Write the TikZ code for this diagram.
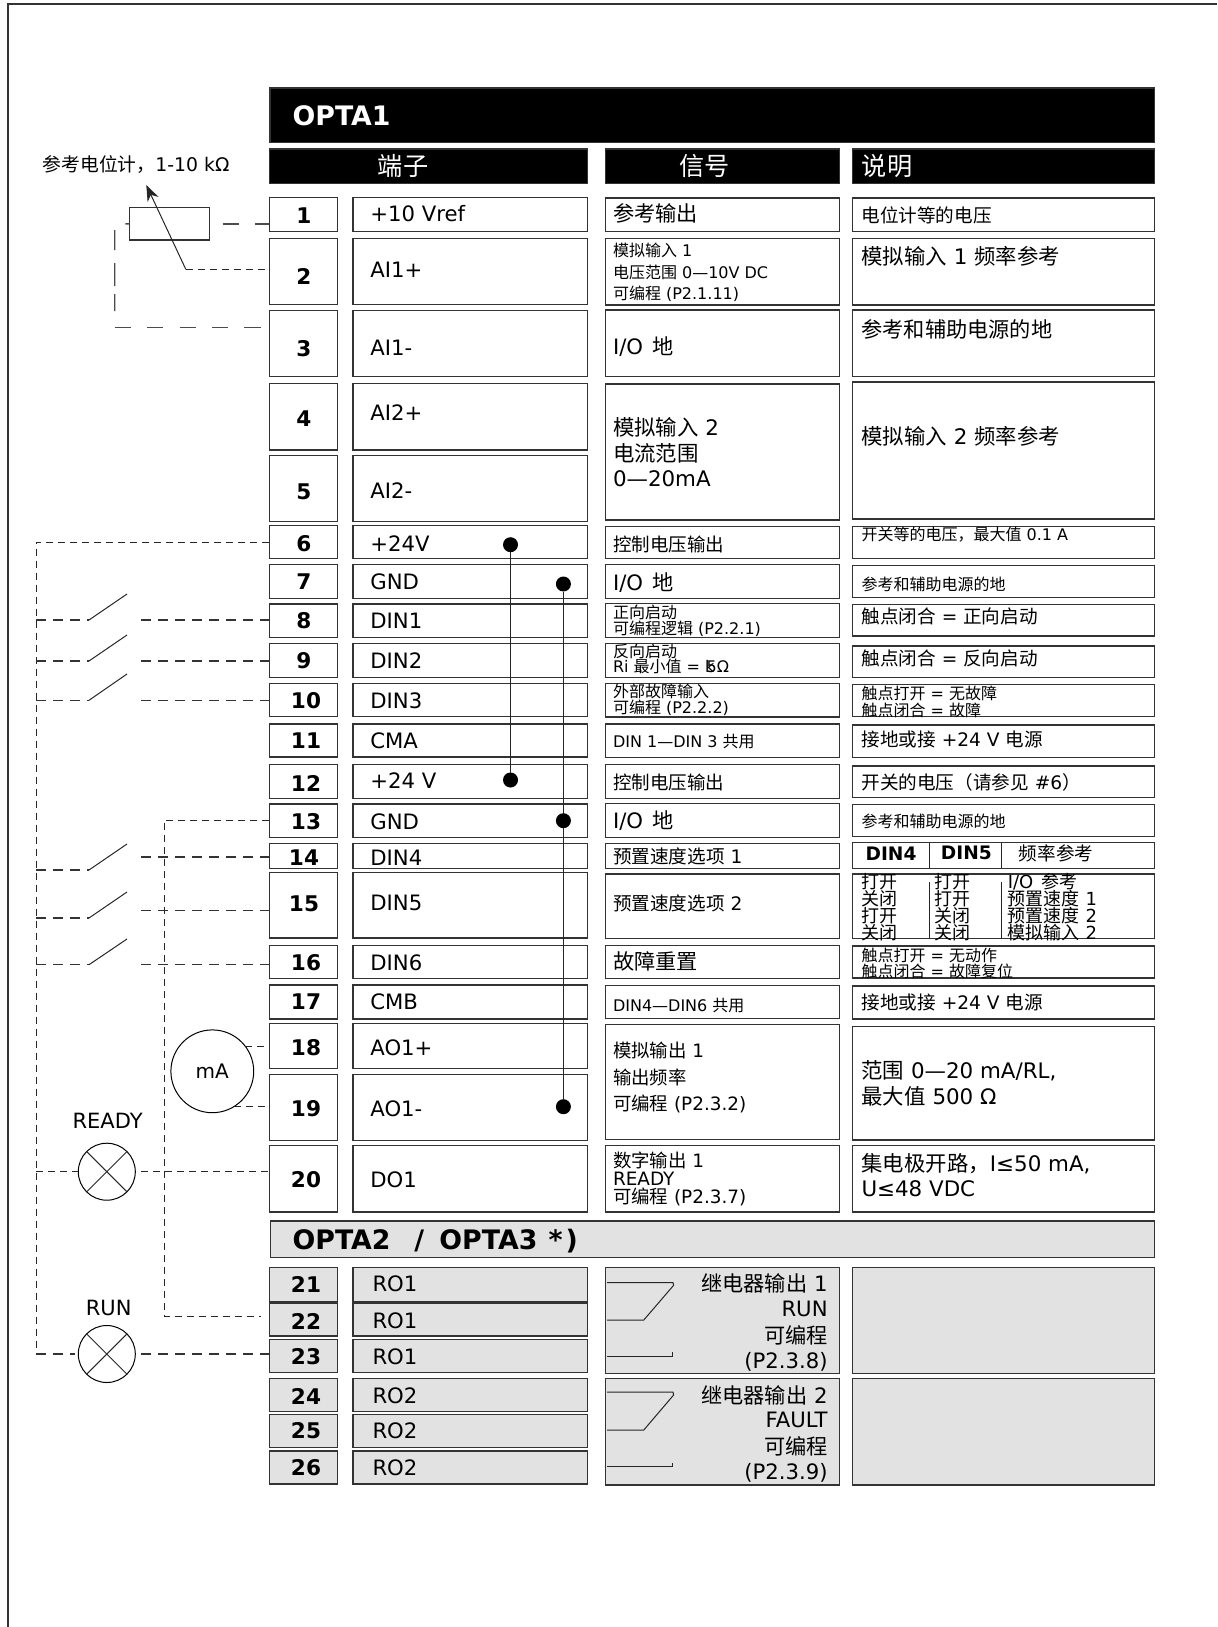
\documentclass[tikz,border=0pt]{standalone}
\usepackage{fontspec}
\setmainfont{DejaVu Sans}
\newfontfamily\cjk{Noto Sans CJK SC}
\usetikzlibrary{arrows.meta}
\newcommand{\zh}[1]{{\cjk #1}}
\newcommand{\cell}[6][]{\node[cellbox,#1,minimum width={(#4-#3)*0.5pt},minimum height={(#6-#5)*0.5pt}] (#2) at ({(#3+#4)/2},{(#5+#6)/2}) {};}
\definecolor{panelgray}{HTML}{E2E2E2}

\begin{document}
\begin{tikzpicture}[x=0.5pt,y=-0.5pt,
    fs/.style={font=\fontsize{#1}{#1}\selectfont},
    cellbox/.style={rectangle,draw=black!80,line width=0.7pt,inner sep=0pt,outer sep=0pt},
    txt/.style={anchor=west,inner sep=0pt,outer sep=0pt},
    latin/.style={txt,yshift=-0.5pt,fs=10.6},
    num/.style={inner sep=0pt,outer sep=0pt,yshift=-0.5pt,font=\fontsize{10.8}{10.8}\selectfont\bfseries},
    head/.style={inner sep=0pt,text=white,fs=12.6},
    wire/.style={line width=0.9pt,black!85},
    dot/.style={circle,fill=black,minimum size=7.5pt,inner sep=0pt,outer sep=0pt},
    ds/.style={line width=0.5pt,black!85,dash pattern=on 3.5pt off 2.5pt},
    dm/.style={line width=0.6pt,black!80,dash pattern=on 5pt off 3.5pt},
    dl/.style={line width=0.7pt,black!70,dash pattern=on 8.1pt off 8.1pt},
    lamp/.style={circle,draw,line width=0.5pt,minimum size=28.5pt,inner sep=0pt,outer sep=0pt},
    thin line/.style={line width=0.5pt,black!85}
    ]
    \useasboundingbox (0,0) rectangle (1217,1627);

    % page edge
    \coordinate (pagebl) at (8,1627);
    \coordinate (pagetl) at (8,4);
    \coordinate (pagetr) at (1217,4);
    \draw[line width=0.7pt,black!80] (pagebl) -- (pagetl) -- (pagetr);

    % title bars
    \cell[fill=black]{optaone}{270}{1154.5}{88}{142.7}
    \node[txt,text=white,font=\fontsize{13.4}{13.4}\selectfont\bfseries] (optaonetxt) at (292.6,116) {OPTA1};
    \cell[fill=black]{headterm}{269.3}{587.2}{149}{183.4}
    \cell[fill=black]{headsig}{605.4}{839.2}{149}{183.4}
    \cell[fill=black]{headdesc}{852.3}{1154.5}{149}{183.4}
    \node[head] (headtermtxt) at (403,166) {\zh{端子}};
    \node[head] (headsigtxt) at (704.5,166) {\zh{信号}};
    \node[head] (headdesctxt) at (887,166) {\zh{说明}};
    \cell[fill=panelgray]{optatwo}{270.5}{1154.5}{1221}{1257.3}
    \node[txt,font=\fontsize{13.4}{13.4}\selectfont\bfseries] (optatwotxt) at (292.6,1241) {OPTA2\ \ \kern2.5pt/\kern3pt\ OPTA3\kern1pt\ *\kern1.5pt)};

    % terminals
    \foreach \n/\t/\b/\nx/\ny/\ly/\lab in {
      1/197.3/231.3/304/215/213/{+10 Vref},
      2/238.7/304.7/304/275/269/{AI1+},
      3/310.3/376.7/304/347.6/346.5/{AI1-},
      4/383.7/450/304/418/412/{AI2+},
      5/455.3/521.3/304/491/490/{AI2-},
      6/525.7/558.3/304/542.6/542.6/{+24V},
      7/564.7/598.3/304/581/581/{GND},
      8/604/637.3/304/620/619.4/{DIN1},
      9/643.7/677.3/304/660/660/{DIN2},
      10/683.7/716.7/306/700/700/{DIN3},
      11/724/757/306/740/740/{CMA},
      12/764.7/798.3/306/782/780/{+24 V},
      13/804/837.7/306/821/820.7/{GND},
      14/843.3/868.3/304/857/857/{DIN4},
      15/872.7/938/304/902.6/901.6/{DIN5},
      16/945.3/978.7/306/962/962/{DIN6},
      17/985/1019/306/1001/1001/{CMB},
      18/1023.7/1068.3/306/1047/1047/{AO1+},
      19/1074.7/1140.3/306/1108/1108/{AO1-},
      20/1145.3/1212/306/1179/1179/{DO1}}
    {
      \cell{n\n}{269.3}{337.3}{\t}{\b}
      \cell{lab\n}{353}{587.2}{\t}{\b}
      \node[num] (num\n) at (\nx,\ny) {\n};
      \node[latin] (labtxt\n) at (370.4,\ly) {\lab};
    }
    \foreach \n/\t/\b/\ny/\lab in {
      21/1267.3/1301.3/1283/RO1,
      22/1303/1336/1320/RO1,
      23/1339.3/1372.7/1356/RO1,
      24/1378.7/1411.7/1395/RO2,
      25/1414.3/1447.3/1430/RO2,
      26/1451/1484/1467/RO2}
    {
      \cell[fill=panelgray]{n\n}{269.3}{337.3}{\t}{\b}
      \cell[fill=panelgray]{lab\n}{353}{587.2}{\t}{\b}
      \node[num] (num\n) at (306,\ny) {\n};
      \node[latin] (labtxt\n) at (372.5,\ny) {\lab};
    }

    % signal and description cells
    \foreach \n/\t/\b in {1/198/231.4,2/238.6/305,3/310/376.6,45/384/520,6/526.7/558.3,7/564.7/598.7,8/603.3/637.3,
      9/643.3/677.3,10/683.3/717,11/724/757.3,12/764.3/798.3,13/803.7/837.7,14/843.3/868.3,15/874/938.7,
      16/945.3/978.7,17/985.3/1018.7,1819/1024.7/1139.3,20/1145.3/1212}
    {
      \cell{sig\n}{605.4}{839.2}{\t}{\b}
    }
    \foreach \n/\t/\b in {1/198/231.4,2/238.6/305,3/310/376.6,45/382/519,6/526.7/558.3,7/565.7/597.3,8/604.3/636,
      9/646/677.7,10/684.7/716.7,11/725/757.3,12/766/797.3,13/804.3/836.3,14/842.7/868.3,15/874/938.7,
      16/946/978,17/986/1019,1819/1026.7/1140,20/1145.3/1212}
    {
      \cell{desc\n}{852.3}{1154.5}{\t}{\b}
    }
    \cell[fill=panelgray]{sigrelayone}{605.4}{839.2}{1267.3}{1373.7}
    \cell[fill=panelgray]{descrelayone}{852.3}{1154.5}{1267.3}{1373.7}
    \cell[fill=panelgray]{sigrelaytwo}{605.4}{839.2}{1378.7}{1485}
    \cell[fill=panelgray]{descrelaytwo}{852.3}{1154.5}{1378.7}{1485}

    % signal texts
    \foreach \s/\y/\lab [count=\i] in {
      10.6/213/{\zh{参考输出}},
      8/250/{\zh{模拟输入} 1},
      8/272/{\zh{电压范围} 0—10V DC},
      8/293.6/{\zh{可编程} (P2.1.11)},
      10.6/346.5/{I/O\kern1.5pt\ \zh{地}},
      10.7/427.5/{\zh{模拟输入} 2},
      10.7/453.4/{\zh{电流范围}},
      10.7/479/{0—20mA},
      9.25/544.7/{\zh{控制电压输出}},
      10.6/583/{I/O\kern1.5pt\ \zh{地}},
      8/612.7/{\zh{正向启动}},
      8/628.3/{\zh{可编程逻辑} (P2.2.1)},
      8/651.7/{\zh{反向启动}},
      8/666.7/{Ri \zh{最小值} = \rlap{k}\kern0.7pt 5Ω},
      8/691.7/{\zh{外部故障输入}},
      8/707.3/{\zh{可编程} (P2.2.2)},
      8/741.7/{DIN 1—DIN 3 \zh{共用}},
      9.25/782.7/{\zh{控制电压输出}},
      10.6/821/{I/O\kern1.5pt\ \zh{地}},
      9.3/856/{\zh{预置速度选项} 1},
      9.3/903.3/{\zh{预置速度选项} 2},
      10.6/961.7/{\zh{故障重置}},
      8/1005.7/{DIN4—DIN6 \zh{共用}},
      9.2/1050.7/{\zh{模拟输出} 1},
      9.2/1077.3/{\zh{输出频率}},
      9.2/1104.3/{\zh{可编程} (P2.3.2)},
      9.2/1160.7/{\zh{数字输出} 1},
      9.2/1178.3/{READY},
      9.2/1197.3/{\zh{可编程} (P2.3.7)}}
    {
      \node[txt,fs=\s] (sigtxt\i) at (613,\y) {\lab};
    }

    % description texts
    \foreach \s/\y/\lab [count=\i] in {
      9.3/215.8/{\zh{电位计等的电压}},
      10.7/256.3/{\zh{模拟输入} 1 \zh{频率参考}},
      10.6/329/{\zh{参考和辅助电源的地}},
      10.7/436.8/{\zh{模拟输入} 2 \zh{频率参考}},
      8/534.3/{\zh{开关等的电压，最大值} 0.1 A},
      8/584.3/{\zh{参考和辅助电源的地}},
      9.3/616.7/{\zh{触点闭合} = \zh{正向启动}},
      9.3/658.3/{\zh{触点闭合} = \zh{反向启动}},
      8/693.3/{\zh{触点打开} = \zh{无故障}},
      8/710/{\zh{触点闭合} = \zh{故障}},
      9.3/739.3/{\zh{接地或接} +24 V \zh{电源}},
      9.3/782.3/{\zh{开关的电压（请参见} \#6\zh{）}},
      8/821/{\zh{参考和辅助电源的地}},
      8/955/{\zh{触点打开} = \zh{无动作}},
      8/971/{\zh{触点闭合} = \zh{故障复位}},
      9.3/1002/{\zh{接地或接} +24 V \zh{电源}},
      10.7/1070.7/{\zh{范围} 0—20 mA/RL,},
      10.7/1096.7/{\zh{最大值} 500 Ω},
      10.7/1163.3/{\zh{集电极开路，}I≤50 mA,},
      10.7/1188.3/{U≤48 VDC}}
    {
      \node[txt,fs=\s] (desctxt\i) at (861.5,\y) {\lab};
    }

    % frequency reference table
    \node[font=\fontsize{9.3}{9.3}\selectfont\bfseries,inner sep=0pt] (tabdinfour) at (891,853.3) {DIN4};
    \node[font=\fontsize{9.3}{9.3}\selectfont\bfseries,inner sep=0pt] (tabdinfive) at (966.4,853.3) {DIN5};
    \node[fs=9.3,inner sep=0pt] (tabfreq) at (1056,853.3) {\zh{频率参考}};
    \draw[thin line] (929,842.7) -- (929,868.3);
    \draw[thin line] (1001.4,842.7) -- (1001.4,868.3);
    \draw[thin line] (929,882) -- (929,938.7);
    \draw[thin line] (1001.4,882) -- (1001.4,938.7);
    \foreach \y/\a/\b/\c [count=\i] in {
      882/打开/打开/{I/O\kern1pt\ \zh{参考}},
      899/关闭/打开/{\zh{预置速度} 1},
      916/打开/关闭/{\zh{预置速度} 2},
      932.7/关闭/关闭/{\zh{模拟输入} 2}}
    {
      \node[txt,fs=9] (taba\i) at (861,\y) {\zh{\a}};
      \node[txt,fs=9] (tabb\i) at (934.4,\y) {\zh{\b}};
      \node[txt,fs=9] (tabc\i) at (1007.8,\y) {\c};
    }

    % relay cells
    \foreach \y/\lab [count=\i] in {
      1283.3/{\zh{继电器输出} 1},1309.3/RUN,1335/{\zh{可编程}},1361.7/{(P2.3.8)},
      1395.3/{\zh{继电器输出} 2},1420/FAULT,1446/{\zh{可编程}},1473.3/{(P2.3.9)}}
    {
      \node[inner sep=0pt,anchor=east,fs=10.6] (relaytxt\i) at (828,\y) {\lab};
    }
    \foreach \a/\b/\c/\d/\e/\f in {1282.7/1285.3/1320/1356.7/1352.3/one,1392/1395/1430/1466.7/1462.7/two}
    {
      \coordinate (rel\f a) at (607,\a);
      \coordinate (rel\f b) at (673,\a);
      \coordinate (rel\f c) at (673.6,\b);
      \coordinate (rel\f d) at (643.8,\c);
      \coordinate (rel\f e) at (607,\c);
      \coordinate (rel\f f) at (607,\d);
      \coordinate (rel\f g) at (672.8,\d);
      \coordinate (rel\f h) at (672.8,\e);
      \draw[thin line] (rel\f a) -- (rel\f b) -- (rel\f c) -- (rel\f d) -- (rel\f e);
      \draw[thin line] (rel\f f) -- (rel\f g) -- (rel\f h);
    }

    % jumpers
    \node[dot] (dot6) at (510.5,544.7) {};
    \node[dot] (dot12) at (510.5,780) {};
    \node[dot] (dot7) at (563.4,584) {};
    \node[dot] (dot13) at (563.4,820.7) {};
    \node[dot] (dot19) at (563.4,1106.7) {};
    \draw[wire] (dot6) -- (dot12);
    \draw[wire] (dot7) -- (dot13) -- (dot19);

    % potentiometer
    \node (potlabel) [txt,fs=9.4] at (42.7,164.3) {\zh{参考电位计，}1-10 kΩ};
    \cell{pot}{129.3}{209.2}{207.7}{240}
    \coordinate (wiper) at (185.8,269.3);
    \coordinate (wipertip) at (146.3,185);
    \coordinate (potcorner) at (114.7,224);
    \coordinate (potfoot) at (114.7,327.7);
    \coordinate (potend) at (261,327.7);
    \coordinate (potright) at (222.6,224);
    \draw[-{Stealth[length=8pt,width=6pt]},thin line] (wiper) -- (wipertip);
    \draw[ds] (wiper) -- (wiper -| n2.west);
    \draw[dl] (potright) -- (potright -| n1.west);
    \draw[dl,dash pattern=on 2pt off 8.3pt on 10pt off 6.5pt on 11.5pt off 4pt on 8.5pt off 100pt] (pot.west) -- (potcorner) -- (potfoot);
    \draw[dl] (potfoot) -- (potend);

    % common rail and switches
    \coordinate (railbot) at (36,1354);
    \draw[ds] (n6.west) -- (n6.west -| railbot) -- (railbot);
    \foreach \n/\yl/\yt/\yr in {8/620/594/620,9/661/635/661,10/700.3/674/700.3,14/870/844/857,15/918/892/910.7,16/964.7/939/964.7}
    {
      \coordinate (swa\n) at (36,\yl);
      \coordinate (swb\n) at (89,\yl);
      \coordinate (swc\n) at (127,\yt);
      \coordinate (swd\n) at (141.3,\yr);
      \draw[dm] (swa\n) -- (swb\n);
      \draw[thin line] (swb\n) -- (swc\n);
      \draw[dm] (swd\n) -- (swd\n -| n\n.west);
    }

    % analogue meter
    \node[circle,draw,line width=0.5pt,minimum size=41.4pt,inner sep=0pt,outer sep=0pt,fs=10] (meter) at (212.3,1071.3) {mA};
    \draw[ds] (meter.37) -- (meter.37 -| n18.west);
    \draw[ds] (meter.-59) -- (meter.-59 -| n19.west);

    % line from 13 to 22
    \coordinate (retcorner) at (164,820);
    \coordinate (retfoot) at (164,1316);
    \coordinate (retend) at (261,1316);
    \draw[ds] (retcorner -| n13.west) -- (retcorner) -- (retfoot) -- (retend);

    % lamps
    \node[txt,anchor=center,fs=10.5] (readytxt) at (107.6,1121) {READY};
    \node[lamp] (lampready) at (106.8,1171.7) {};
    \node[txt,anchor=center,fs=10.5] (runtxt) at (108.7,1308) {RUN};
    \node[lamp] (lamprun) at (106.8,1354) {};
    \foreach \l in {lampready,lamprun}
    {
      \draw[thin line] (\l.45) -- (\l.225);
      \draw[thin line] (\l.135) -- (\l.-45);
    }
    \draw[ds] (lampready.west -| railbot) -- (lampready.west);
    \draw[ds] ([xshift=3pt]lampready.east) -- (lampready.east -| n20.west);
    \draw[dm] (railbot) -- ([xshift=-1.5pt]lamprun.west);
    \draw[dm] ([xshift=3pt]lamprun.east) -- (lamprun.east -| n23.west);
\end{tikzpicture}
\end{document}
